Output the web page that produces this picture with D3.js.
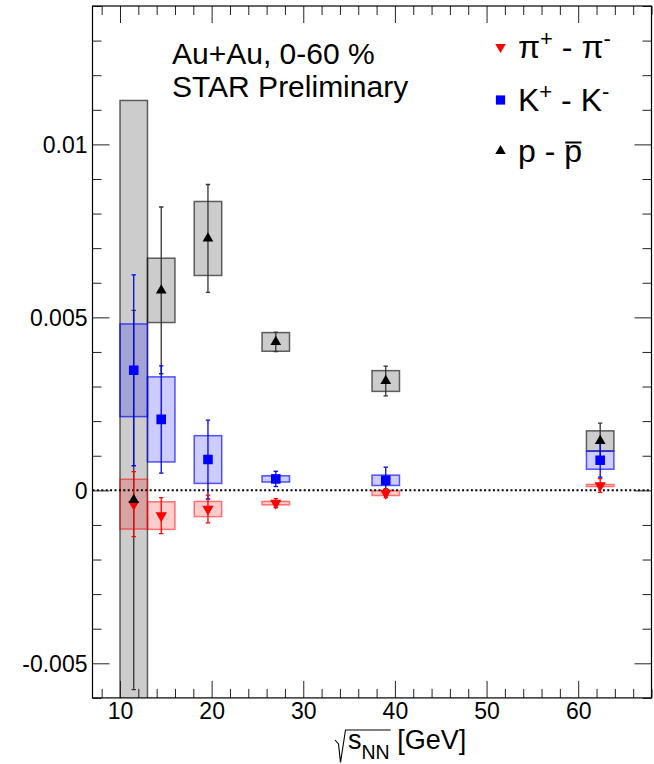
<!DOCTYPE html>
<html>
<head>
<meta charset="utf-8">
<script src="https://cdn.jsdelivr.net/npm/d3@7"></script>
<style>
  body { margin: 0; background: #fff; }
  svg { display: block; }
  text { font-family: "Liberation Sans", Arial, Helvetica, sans-serif; fill: #000; }
</style>
</head>
<body>
<svg id="chart" width="654" height="764"></svg>
<script>
// Collision energies (GeV) and particle - antiparticle differences
const energies = [11.5, 14.5, 19.6, 27, 39, 62.4];

const pionDiff = [-0.00040, -0.00073, -0.00054, -0.00037, -0.00008, 0.00014];
const pionStat = [0.00094, 0.00052, 0.00040, 0.00013, 0.00013, 0.00020];
const pionSys  = [0.00072, 0.00040, 0.00022, 0.00005, 0.00007, 0.00003];

const kaonDiff = [0.00347, 0.00205, 0.00089, 0.00033, 0.00029, 0.00087];
const kaonStat = [0.00276, 0.00155, 0.00114, 0.00022, 0.00038, 0.00049];
const kaonSys  = [0.00134, 0.00123, 0.00069, 0.00009, 0.00015, 0.00026];

const protonDiff = [-0.00028, 0.00578, 0.00728, 0.00429, 0.00316, 0.00143];
const protonStat = [0.00548, 0.00241, 0.00156, 0.00028, 0.00043, 0.00051];
const protonSys  = [0.01155, 0.00093, 0.00107, 0.00027, 0.00030, 0.00029];

// half width of the systematic boxes along the energy axis (GeV)
const sysHalfWidth = 1.5;

const xTickValues = [10, 20, 30, 40, 50, 60];
const yTickValues = [-0.005, 0, 0.005, 0.01];
const yTickLabels = ["-0.005", "0", "0.005", "0.01"];

const svg = d3.select("#chart");

const x = d3.scaleLinear().domain([7, 68]).range([92.5, 651.5]);
const y = d3.scaleLinear().domain([-0.006, 0.014]).range([697.9, 6]);
const [x0, x1] = x.range();
const [y0, y1] = [y.range()[1], y.range()[0]];

const FONT_LABEL = 23;

// clip region for the plot area
svg.append("defs").append("clipPath").attr("id", "plotClip")
  .append("rect").attr("x", x0).attr("y", y0).attr("width", x1 - x0).attr("height", y1 - y0);

const plot = svg.append("g").attr("clip-path", "url(#plotClip)");

const series = [
  { key: "proton", diff: protonDiff, stat: protonStat, sys: protonSys,
    color: "#000", bar: "#333", boxFill: "rgba(0,0,0,0.2)", boxStroke: "rgba(0,0,0,0.6)",
    symbol: d3.symbolTriangle, rotate: 0, size: 50 },
  { key: "kaon", diff: kaonDiff, stat: kaonStat, sys: kaonSys,
    color: "#0000ff", bar: "#0000ff", boxFill: "rgba(0,0,255,0.2)", boxStroke: "rgba(0,0,255,0.65)",
    symbol: d3.symbolSquare, rotate: 0, size: 92 },
  { key: "pion", diff: pionDiff, stat: pionStat, sys: pionSys,
    color: "#ff0000", bar: "#ff0000", boxFill: "rgba(255,0,0,0.2)", boxStroke: "rgba(255,0,0,0.5)",
    symbol: d3.symbolTriangle, rotate: 180, size: 56 }
];

const rows = s => energies.map((e, i) => ({ e, v: s.diff[i], st: s.stat[i], sy: s.sys[i] }));

// systematic boxes
series.forEach(s => {
  plot.append("g").selectAll("rect").data(rows(s)).join("rect")
    .attr("x", d => x(d.e - sysHalfWidth))
    .attr("width", d => x(d.e + sysHalfWidth) - x(d.e - sysHalfWidth))
    .attr("y", d => y(d.v + d.sy))
    .attr("height", d => y(d.v - d.sy) - y(d.v + d.sy))
    .attr("fill", s.boxFill)
    .attr("stroke", s.boxStroke)
    .attr("stroke-width", 1.5);
});

// zero reference line
plot.append("line")
  .attr("x1", x0).attr("x2", x1).attr("y1", y(0)).attr("y2", y(0))
  .attr("stroke", "#000").attr("stroke-width", 2).attr("stroke-dasharray", "2,2.4");

// statistical error bars
series.forEach(s => {
  const g = plot.append("g").attr("stroke", s.bar).attr("stroke-width", 1.3).attr("fill", "none");
  const data = rows(s);
  g.selectAll("line.v").data(data).join("line").attr("class", "v")
    .attr("x1", d => x(d.e)).attr("x2", d => x(d.e))
    .attr("y1", d => y(d.v + d.st)).attr("y2", d => y(d.v - d.st));
  ["hi", "lo"].forEach(side => {
    g.selectAll("line." + side).data(data).join("line").attr("class", side)
      .attr("x1", d => x(d.e) - 2.2).attr("x2", d => x(d.e) + 2.2)
      .attr("y1", d => y(side === "hi" ? d.v + d.st : d.v - d.st))
      .attr("y2", d => y(side === "hi" ? d.v + d.st : d.v - d.st));
  });
});

// markers (protons drawn last, on top)
[series[2], series[1], series[0]].forEach(s => {
  const sym = d3.symbol().type(s.symbol).size(s.size);
  plot.append("g").selectAll("path").data(rows(s)).join("path")
    .attr("d", sym)
    .attr("transform", d => `translate(${x(d.e)},${y(d.v)}) rotate(${s.rotate})`)
    .attr("fill", s.color);
});

// axes: major and minor ticks on all four sides, pointing inward
const xMinor = d3.range(8, 69, 2).filter(v => v % 10 !== 0);
const yMinor = d3.range(-6, 15).filter(i => i % 5 !== 0).map(i => i / 1000);

function styleAxis(g) {
  g.select(".domain").remove();
  g.selectAll(".tick line").attr("stroke", "#222").attr("stroke-width", 1);
  g.selectAll(".tick text").attr("font-size", FONT_LABEL)
    .attr("font-family", "'Liberation Sans', Arial, Helvetica, sans-serif").attr("fill", "#000");
}

svg.append("g").attr("transform", `translate(0,${y1})`)
  .call(d3.axisBottom(x).tickValues(xTickValues).tickSize(-17).tickPadding(5).tickFormat(d3.format("d")))
  .call(styleAxis);
svg.append("g").attr("transform", `translate(0,${y1})`)
  .call(d3.axisBottom(x).tickValues(xMinor).tickSize(-9).tickFormat(""))
  .call(styleAxis);
svg.append("g").attr("transform", `translate(0,${y0})`)
  .call(d3.axisTop(x).tickValues(xTickValues).tickSize(-17).tickFormat(""))
  .call(styleAxis);
svg.append("g").attr("transform", `translate(0,${y0})`)
  .call(d3.axisTop(x).tickValues(xMinor).tickSize(-9).tickFormat(""))
  .call(styleAxis);

svg.append("g").attr("transform", `translate(${x0},0)`)
  .call(d3.axisLeft(y).tickValues(yTickValues).tickSize(-17).tickPadding(5)
    .tickFormat((d, i) => yTickLabels[i]))
  .call(styleAxis)
  .call(g => g.selectAll(".tick text").attr("dy", "0.36em"));
svg.append("g").attr("transform", `translate(${x0},0)`)
  .call(d3.axisLeft(y).tickValues(yMinor).tickSize(-9).tickFormat(""))
  .call(styleAxis);
svg.append("g").attr("transform", `translate(${x1},0)`)
  .call(d3.axisRight(y).tickValues(yTickValues).tickSize(-17).tickFormat(""))
  .call(styleAxis);
svg.append("g").attr("transform", `translate(${x1},0)`)
  .call(d3.axisRight(y).tickValues(yMinor).tickSize(-9).tickFormat(""))
  .call(styleAxis);

// frame
svg.append("rect").attr("x", x0).attr("y", y0).attr("width", x1 - x0).attr("height", y1 - y0)
  .attr("fill", "none").attr("stroke", "#000").attr("stroke-width", 1.2);

// x-axis title: sqrt(s_NN) [GeV]
const TITLE_X = 348, TITLE_Y = 748.5;
const title = svg.append("text").attr("x", TITLE_X).attr("y", TITLE_Y).attr("font-size", 27);
title.append("tspan").text("s");
title.append("tspan").attr("font-size", 19.5).attr("dy", 10).text("NN");
title.append("tspan").attr("dy", -10).text(" [GeV]");
const subEnd = TITLE_X + title.node().getSubStringLength(0, 3);
const ov = TITLE_Y - 18.5;
svg.append("path")
  .attr("d", `M335,${ov + 10} L338.5,${ov + 14} L340.5,762.5 L345.5,${ov} L${subEnd + 1},${ov}`)
  .attr("fill", "none").attr("stroke", "#000").attr("stroke-width", 1.1);

// header text
svg.append("text").attr("x", 172).attr("y", 64).attr("font-size", 30).text("Au+Au, 0-60 %");
svg.append("text").attr("x", 172).attr("y", 97).attr("font-size", 30).text("STAR Preliminary");

// legend
const legendRows = [
  { s: series[2], y: 58, parts: [["π", 0], ["+", 1], [" - π", 0], ["-", 1]] },
  { s: series[1], y: 111, parts: [["K", 0], ["+", 1], [" - K", 0], ["-", 1]] },
  { s: series[0], y: 162, parts: [["p - ", 0], ["p", 2]] }
];
const LEG_FONT = 32, SUP_FONT = 22;
legendRows.forEach(r => {
  const sym = d3.symbol().type(r.s.symbol).size(r.s.key === "kaon" ? 85 : 48);
  svg.append("path").attr("d", sym)
    .attr("transform", `translate(500.5,${r.y - 11}) rotate(${r.s.rotate})`)
    .attr("fill", r.s.color);
  const t = svg.append("text").attr("x", 518).attr("y", r.y).attr("font-size", LEG_FONT);
  let raised = false;
  r.parts.forEach(([str, kind]) => {
    const sp = t.append("tspan").text(str);
    if (kind === 1) {
      sp.attr("font-size", SUP_FONT).attr("dy", raised ? 0 : -12);
      raised = true;
    } else {
      sp.attr("dy", raised ? 12 : 0);
      raised = false;
    }
    if (kind === 2) {
      // overline for the antiproton
      const n = t.node();
      const full = n.textContent.length;
      const start = 518 + n.getSubStringLength(0, full - 1);
      const w = n.getSubStringLength(full - 1, 1);
      svg.append("line").attr("x1", start + 1).attr("x2", start + w - 0.5)
        .attr("y1", r.y - 19.5).attr("y2", r.y - 19.5)
        .attr("stroke", "#000").attr("stroke-width", 2);
    }
  });
});
</script>
</body>
</html>
